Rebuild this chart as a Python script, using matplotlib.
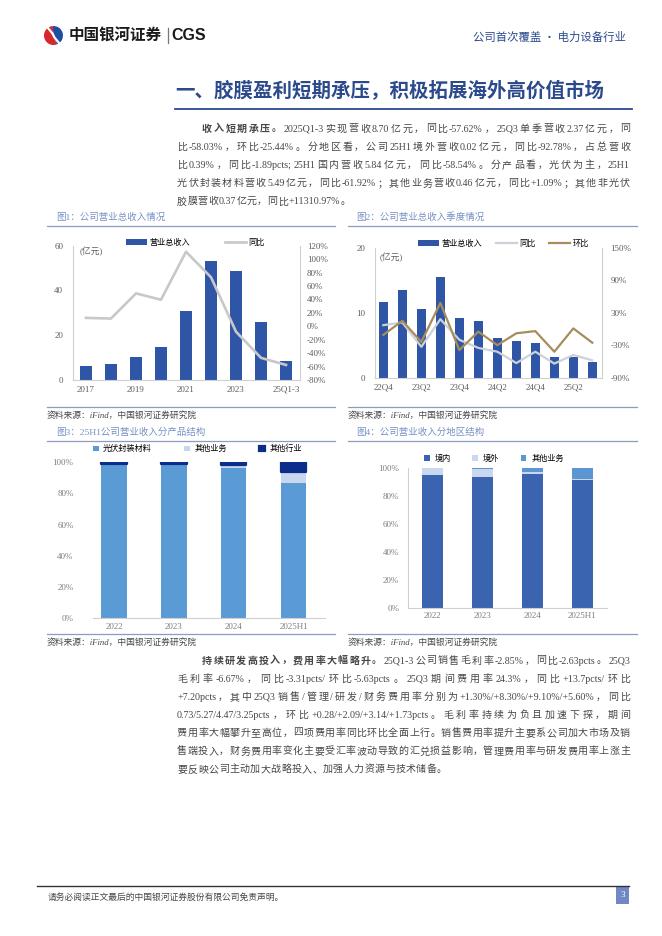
"""
Page 3 of the CGS initiation report: revenue charts plus two text paragraphs.
"""
import re
import numpy as np
import matplotlib
matplotlib.use('Agg')
import matplotlib.pyplot as plt
from matplotlib.patches import Rectangle, Wedge
from matplotlib.lines import Line2D

W, H = 662, 936
plt.rcParams['font.family'] = ['Liberation Serif', 'Noto Sans CJK SC']
plt.rcParams['axes.unicode_minus'] = False

# ── Chart data ────────────────────────────────────────────────
years = ['2017', '2018', '2019', '2020', '2021', '2022', '2023', '2024', '25Q1-3']
rev_year = [6.3, 7.0, 10.4, 14.8, 31.0, 53.2, 48.8, 25.9, 8.7]
yoy_year = [12.5, 11.5, 49.0, 39.5, 111.0, 73.0, -8.0, -47.0, -57.6]

quarters = ['22Q4', '23Q1', '23Q2', '23Q3', '23Q4', '24Q1', '24Q2', '24Q3',
            '24Q4', '25Q1', '25Q2', '25Q3']
rev_q = [11.7, 13.5, 10.5, 15.5, 9.2, 8.7, 6.1, 5.6, 5.4, 3.2, 3.2, 2.37]
yoy_q = [7, 12, -33, 18, -20, -35, -42, -63, -42, -64, -48, -58]
qoq_q = [-11, 15, -24, 48, -39, -5, -30, -8, -4, -42, 1, -25.4]

struct_cats = ['2022', '2023', '2024', '2025H1']
pv_share = [99.0, 98.5, 96.6, 86.9]
other_biz_share = [0.0, 0.6, 1.4, 7.1]
other_ind_share = [1.0, 0.9, 2.0, 6.0]

dom_share = [95.1, 93.9, 95.9, 91.5]
ovs_share = [4.9, 5.4, 1.4, 0.7]
oth_share = [0.0, 0.7, 2.7, 7.8]

# ── Text ──────────────────────────────────────────────────────
P1 = [
    [('收入短期承压。', 'bold'), ('2025Q1-3实现营收8.70亿元，同比-57.62%，25Q3单季营收2.37亿元，同', 'normal')],
    [('比-58.03%，环比-25.44%。分地区看，公司25H1境外营收0.02亿元，同比-92.78%，占总营收', 'normal')],
    [('比0.39%，同比-1.89pcts; 25H1国内营收5.84亿元，同比-58.54%。分产品看，光伏为主，25H1', 'normal')],
    [('光伏封装材料营收5.49亿元，同比-61.92%；其他业务营收0.46亿元，同比+1.09%；其他非光伏', 'normal')],
    [('胶膜营收0.37亿元，同比+11310.97%。', 'normal')],
]
P2 = [
    [('持续研发高投入，费用率大幅略升。', 'bold'), ('25Q1-3公司销售毛利率-2.85%，同比-2.63pcts。25Q3', 'normal')],
    [('毛利率-6.67%，同比-3.31pcts/环比-5.63pcts。25Q3期间费用率24.3%，同比+13.7pcts/环比', 'normal')],
    [('+7.20pcts，其中25Q3销售/管理/研发/财务费用率分别为+1.30%/+8.30%/+9.10%/+5.60%，同比', 'normal')],
    [('0.73/5.27/4.47/3.25pcts，环比+0.28/+2.09/+3.14/+1.73pcts。毛利率持续为负且加速下探，期间', 'normal')],
    [('费用率大幅攀升至高位，四项费用率同比环比全面上行。销售费用率提升主要系公司加大市场及销', 'normal')],
    [('售端投入，财务费用率变化主要受汇率波动导致的汇兑损益影响，管理费用率与研发费用率上涨主', 'normal')],
    [('要反映公司主动加大战略投入、加强人力资源与技术储备。', 'normal')],
]

BLUE = '#2F56A6'
DARK = '#2B4A8C'
TITLE_C = '#7590C4'
RULE_C = '#8A9CC0'
TXT = '#474747'
TICK_C = '#5E5E5E'
SPINE_C = '#D0D0D0'

fig = plt.figure(figsize=(W / 100, H / 100), dpi=100)
page = fig.add_axes([0, 0, 1, 1])
page.set_xlim(0, W); page.set_ylim(H, 0); page.axis('off')
renderer = fig.canvas.get_renderer()


def box(x0, y0, x1, y1):
    return [x0 / W, 1 - y1 / H, (x1 - x0) / W, (y1 - y0) / H]


def hline(y, x0, x1, c, lw):
    page.add_line(Line2D([x0, x1], [y, y], color=c, lw=lw))


def put_line(y, x0, x1, runs, justify=True, size=7.2):
    pieces = []
    for s, w in runs:
        for tok in re.findall(r'[\x21-\x7e]+|\S', s):
            pieces.append((tok, w))
    arts = [page.text(0, y, tok, fontsize=size, fontweight=w, color=TXT,
                      va='center', ha='left') for tok, w in pieces]
    widths = [a.get_window_extent(renderer).width for a in arts]
    gap = ((x1 - x0) - sum(widths)) / (len(arts) - 1) if justify else 0.4
    x = x0
    for a, wd in zip(arts, widths):
        a.set_x(x)
        x += wd + gap


def paragraph(lines, y0, step):
    for i, runs in enumerate(lines):
        x0 = 202 if i == 0 else 177
        put_line(y0 + i * step, x0, 630, runs, justify=(i < len(lines) - 1))


# ── Header ────────────────────────────────────────────────────
lg = fig.add_axes(box(44, 26, 63, 45))
lg.set_xlim(-1, 1); lg.set_ylim(-1, 1); lg.axis('off')
lg.add_patch(Wedge((0, 0), 1, 95, 290, fc='#D7282F', ec='none'))
lg.add_patch(Wedge((0, 0), 1, 290, 455, fc='#1E4DA1', ec='none'))
lg.plot([-0.55, -0.1, 0.1, 0.55], [0.75, 0.2, -0.2, -0.75], color='white', lw=1.6)
page.text(69, 35.5, '中国银河证券', fontsize=11.2, fontweight='bold', color='#1a1a1a',
          family=['Noto Sans CJK SC'], va='center')
page.add_line(Line2D([167.5, 167.5], [28, 43], color='#777777', lw=0.9))
page.text(171, 36, 'CGS', fontsize=11.5, fontweight='bold', color='#1a1a1a',
          family=['Liberation Sans'], va='center')
page.text(626, 37, '公司首次覆盖 · 电力设备行业', fontsize=8.2, color=DARK,
          family=['Noto Sans CJK SC'], va='center', ha='right')

page.text(175, 90, '一、胶膜盈利短期承压，积极拓展海外高价值市场', fontsize=14,
          fontweight='bold', color=DARK, family=['Noto Sans CJK SC'], va='center')
hline(109, 175, 632, DARK, 1.3)

paragraph(P1, 129, 18.2)
paragraph(P2, 661, 18.1)

# ── Chart frames (titles, rules, sources) ─────────────────────
frames = [
    (56, 47, 335, 217.5, 226, 406.5, 415.5, '图1：公司营业总收入情况'),
    (356, 348, 637, 217.5, 226, 406.5, 415.5, '图2：公司营业总收入季度情况'),
    (56, 47, 335, 432.7, 440.7, 634.3, 642, '图3：25H1公司营业收入分产品结构'),
    (356, 348, 637, 432.7, 440.7, 634.3, 642, '图4：公司营业收入分地区结构'),
]
for tx, x0, x1, ty, ly, sy, st, title in frames:
    page.text(tx, ty, title, fontsize=6.8, color=TITLE_C, va='center')
    hline(ly, x0, x1, RULE_C, 0.9)
    hline(sy, x0, x1, RULE_C, 0.9)
    page.text(x0, st, '资料来源：iFind，中国银河证券研究院', fontsize=6.3, color=TXT,
              style='italic', va='center')


def style_axes(ax, left=True, right=False):
    ax.set_facecolor('none')
    for s in ['top', 'right', 'left', 'bottom']:
        ax.spines[s].set_color(SPINE_C)
        ax.spines[s].set_linewidth(0.8)
    ax.spines['top'].set_visible(False)
    ax.spines['left'].set_visible(left)
    ax.spines['right'].set_visible(right)
    ax.tick_params(length=0, labelsize=6.5, labelcolor=TICK_C)


# ═══════════════ 图1 annual revenue ═══════════════
ax = fig.add_axes(box(73, 245.7, 300, 380))
x = np.arange(len(years))
bars = ax.bar(x, rev_year, width=0.5, color=BLUE)
ax.set_xlim(-0.52, 8.56); ax.set_ylim(0, 60)
ax.set_yticks([0, 20, 40, 60])
ax.set_xticks(x[::2]); ax.set_xticklabels(years[::2])
style_axes(ax)
ax.tick_params(axis='y', pad=7); ax.tick_params(axis='x', pad=4)
ax.text(0.03, 0.99, '(亿元)', transform=ax.transAxes, fontsize=6.3, color=TICK_C,
        va='top', ha='left')
ax2 = ax.twinx()
ln, = ax2.plot(x, yoy_year, color='#C8C8C8', lw=1.9)
ax2.set_ylim(-80, 120)
ax2.set_yticks(range(-80, 121, 20))
ax2.set_yticklabels([f'{v}%' for v in range(-80, 121, 20)])
style_axes(ax2, left=False, right=True)
ax2.spines['bottom'].set_visible(False)
ax2.tick_params(axis='y', pad=5)
ax2.legend([bars, ln], ['营业总收入', '同比'], loc='center', bbox_to_anchor=(0.54, 1.02),
           ncol=2, frameon=False, fontsize=5.9, handlelength=2.6, handletextpad=0.3,
           columnspacing=4.2)

# ═══════════════ 图2 quarterly revenue ═══════════════
ax = fig.add_axes(box(375, 247.7, 602, 377.7))
x = np.arange(len(quarters))
bars = ax.bar(x, rev_q, width=0.49, color=BLUE)
ax.set_xlim(-0.44, 11.51); ax.set_ylim(0, 20)
ax.set_yticks([0, 10, 20])
ax.set_xticks(x[::2]); ax.set_xticklabels(quarters[::2])
style_axes(ax)
ax.tick_params(axis='y', pad=7); ax.tick_params(axis='x', pad=4.5)
ax.text(0.02, 0.96, '(亿元)', transform=ax.transAxes, fontsize=6.3, color=TICK_C,
        va='top', ha='left')
ax2 = ax.twinx()
l1, = ax2.plot(x, yoy_q, color='#CDD1D8', lw=1.6)
l2, = ax2.plot(x, qoq_q, color='#A88D5C', lw=1.6)
ax2.set_ylim(-90, 150)
ax2.set_yticks(range(-90, 151, 60))
ax2.set_yticklabels([f'{v}%' for v in range(-90, 151, 60)])
style_axes(ax2, left=False, right=True)
ax2.spines['bottom'].set_visible(False)
ax2.tick_params(axis='y', pad=6)
ax2.legend([bars, l1, l2], ['营业总收入', '同比', '环比'], loc='center',
           bbox_to_anchor=(0.566, 1.03), ncol=3, frameon=False, fontsize=5.9,
           handlelength=2.6, handletextpad=0.3, columnspacing=1.6)

# ═══════════════ 图3 product structure ═══════════════
ax = fig.add_axes(box(93, 462.3, 325, 618.3))
x = np.arange(len(struct_cats))
b1 = ax.bar(x, pv_share, width=0.42, color='#5B9BD5')
b2 = ax.bar(x, other_biz_share, width=0.42, bottom=pv_share, color='#C8D7EE')
bot = np.array(pv_share) + np.array(other_biz_share)
b3 = ax.bar(x, other_ind_share, width=0.42, bottom=bot, color='#0B2E8A',
            edgecolor='#0B2E8A', linewidth=1.6, joinstyle='round')
ax.set_xlim(-0.35, 3.52); ax.set_ylim(0, 100)
ax.set_yticks(range(0, 101, 20))
ax.set_yticklabels([f'{v}%' for v in range(0, 101, 20)])
ax.set_xticks(x); ax.set_xticklabels(struct_cats)
style_axes(ax, left=False)
ax.tick_params(labelcolor='#7F7F7F')
ax.tick_params(axis='y', pad=14); ax.tick_params(axis='x', pad=3.5)
ax.legend([b1, b2, b3], ['光伏封装材料', '其他业务', '其他行业'], loc='center',
          bbox_to_anchor=(0.45, 1.085), ncol=3, frameon=False, fontsize=5.9,
          handlelength=0.7, handleheight=0.7, handletextpad=0.5, columnspacing=4.0)

# ═══════════════ 图4 region structure ═══════════════
ax = fig.add_axes(box(407.7, 468, 607, 608.3))
x = np.arange(len(struct_cats))
c1 = ax.bar(x, dom_share, width=0.42, color='#3A63B0')
c2 = ax.bar(x, ovs_share, width=0.42, bottom=dom_share, color='#C9D8EE')
bot = np.array(dom_share) + np.array(ovs_share)
c3 = ax.bar(x, oth_share, width=0.42, bottom=bot, color='#5B96D3')
ax.set_xlim(-0.49, 3.5); ax.set_ylim(0, 100)
ax.set_yticks(range(0, 101, 20))
ax.set_yticklabels([f'{v}%' for v in range(0, 101, 20)])
ax.set_xticks(x); ax.set_xticklabels(struct_cats)
style_axes(ax)
ax.tick_params(labelcolor='#7F7F7F')
ax.tick_params(axis='y', pad=6); ax.tick_params(axis='x', pad=3)
ax.legend([c1, c2, c3], ['境内', '境外', '其他业务'], loc='center',
          bbox_to_anchor=(0.433, 1.064), ncol=3, frameon=False, fontsize=5.9,
          handlelength=0.7, handleheight=0.7, handletextpad=0.6, columnspacing=2.6)

# ── Footer ────────────────────────────────────────────────────
hline(885.5, 37, 629, '#333333', 1.0)
page.text(48, 897, '请务必阅读正文最后的中国银河证券股份有限公司免责声明。', fontsize=6.3,
          color=TXT, va='center')
page.add_patch(Rectangle((616, 886.5), 13, 17, fc='#7088C4', ec='none'))
page.text(622.5, 895, '3', fontsize=6.5, color='white', ha='center', va='center')

fig.savefig('out.png', dpi=100, facecolor='white')
plt.close()
